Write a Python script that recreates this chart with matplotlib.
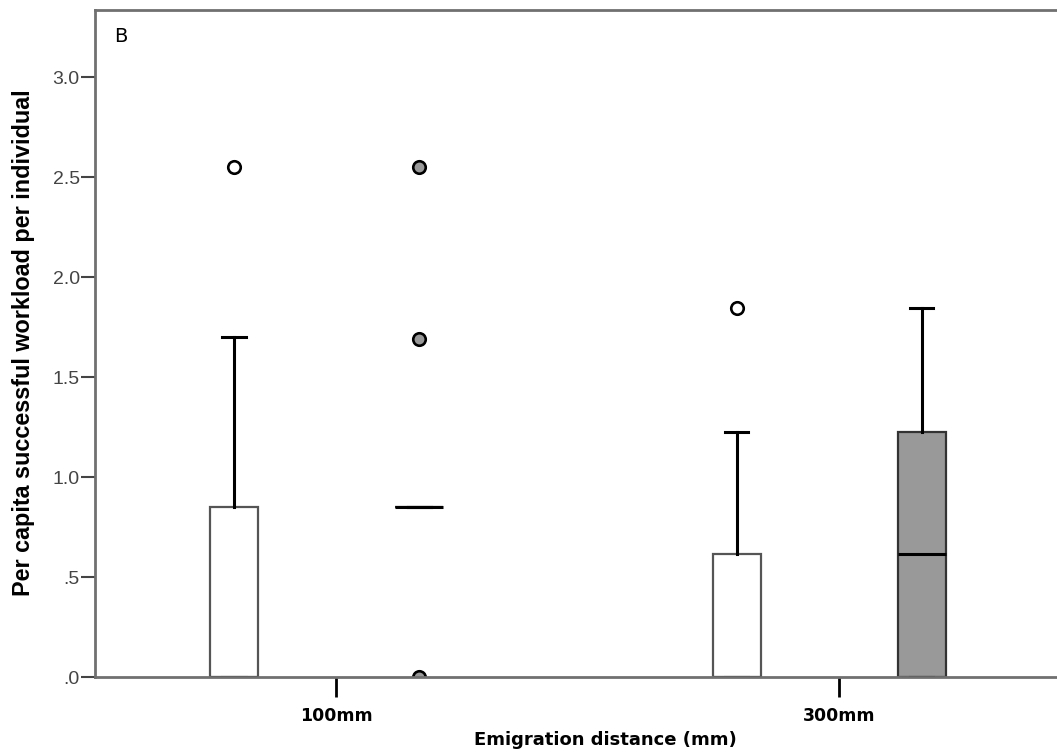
import matplotlib
matplotlib.use("Agg")
import matplotlib.pyplot as plt

# ---- data ----
categories = ["100mm", "300mm"]
# white series (group 1) stats per category
white_q1 = [0.0, 0.0]
white_med = [0.0, 0.0]
white_q3 = [0.85, 0.615]
white_whislo = [0.0, 0.0]
white_whishi = [1.70, 1.227]
white_fliers = [[2.55], [1.845]]
# grey series (group 2) stats per category
grey_q1 = [0.85, 0.0]
grey_med = [0.85, 0.615]
grey_q3 = [0.85, 1.227]
grey_whislo = [0.85, 0.0]
grey_whishi = [0.85, 1.845]
grey_fliers = [[2.55, 1.69, 0.0], []]

yticks = [0.0, 0.5, 1.0, 1.5, 2.0, 2.5, 3.0]
ytick_labels = [".0", ".5", "1.0", "1.5", "2.0", "2.5", "3.0"]

W, H = 1057, 755
fig = plt.figure(figsize=(W / 100, H / 100), dpi=100)
# axes frame extends a little past the right edge of the picture (as in the reference)
ax = fig.add_axes([95 / W, (H - 677) / H, (1115 - 95) / W, (677 - 10) / H])

off_white = 0.203
off_grey = 0.165
width = 0.0945
capw = 0.046
box_edge = "#555555"
grey_fill = "#999999"


def stats(q1, med, q3, lo, hi, fl):
    return [dict(q1=a, med=b, q3=c, whislo=d, whishi=e, fliers=f)
            for a, b, c, d, e, f in zip(q1, med, q3, lo, hi, fl)]


common = dict(
    widths=width, capwidths=capw, patch_artist=True, manage_ticks=False,
    whiskerprops=dict(color="black", lw=2.2),
    capprops=dict(color="black", lw=2.2),
    medianprops=dict(color="black", lw=2.2),
)

ax.bxp(stats(white_q1, white_med, white_q3, white_whislo, white_whishi, white_fliers),
       positions=[i - off_white for i in range(len(categories))],
       boxprops=dict(facecolor="white", edgecolor=box_edge, lw=1.6),
       flierprops=dict(marker="o", markerfacecolor="white", markeredgecolor="black",
                       markersize=9, markeredgewidth=1.9),
       **common)
ax.bxp(stats(grey_q1, grey_med, grey_q3, grey_whislo, grey_whishi, grey_fliers),
       positions=[i + off_grey for i in range(len(categories))],
       boxprops=dict(facecolor=grey_fill, edgecolor="#333333", lw=1.6),
       flierprops=dict(marker="o", markerfacecolor=grey_fill, markeredgecolor="black",
                       markersize=9, markeredgewidth=1.9),
       **common)

ax.set_xlim(-0.4795, 1.549)
ax.set_ylim(0, 3.335)

ax.set_yticks(yticks)
ax.set_yticklabels(ytick_labels, family="Liberation Sans", fontsize=14, color="#444444")
ax.tick_params(axis="y", length=10, width=1.5, color="#444444", pad=1)

ax.set_xticks(range(len(categories)))
ax.set_xticklabels(categories, family="DejaVu Sans", fontweight="bold", fontsize=12.5, color="black")
ax.tick_params(axis="x", length=14.5, width=2, color="black", pad=7)

for s in ["left", "top", "bottom"]:
    ax.spines[s].set_color("#707070")
    ax.spines[s].set_linewidth(2)
ax.spines["right"].set_visible(False)

ax.set_ylabel("Per capita successful workload per individual", family="Liberation Sans",
              fontweight="bold", fontsize=16.8, color="black")
ax.yaxis.set_label_coords(35 / W, 1 - 343 / H, transform=fig.transFigure)
ax.set_xlabel("Emigration distance (mm)", family="DejaVu Sans", fontweight="bold",
              fontsize=13, color="black")
ax.xaxis.set_label_coords(605 / W, 1 - 731 / H, transform=fig.transFigure)

ax.text(114 / W, 1 - 37 / H, "B", transform=fig.transFigure, family="DejaVu Sans",
        fontsize=14, color="black", ha="left", va="center")

fig.savefig("out.png", dpi=100)
